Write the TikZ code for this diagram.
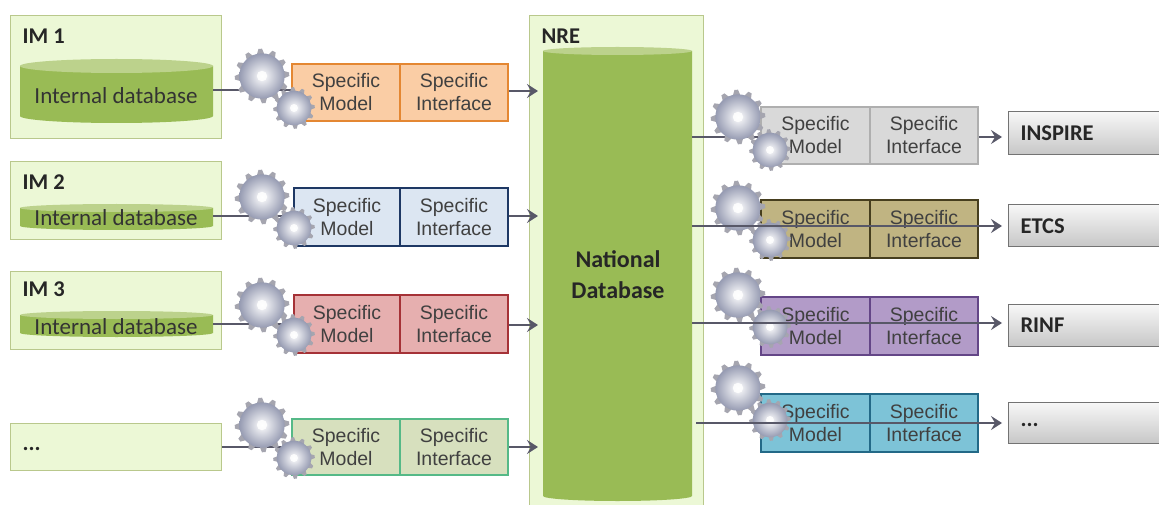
\documentclass[tikz,border=0pt]{standalone}
\usepackage{fontspec}
\setmainfont{Liberation Sans}
\newfontfamily\boldfont{Carlito}
\usetikzlibrary{arrows.meta,calc}
\definecolor{lightgreen}{RGB}{236,248,214}
\definecolor{edgegreen}{RGB}{185,200,140}
\definecolor{dbgreen}{RGB}{153,187,85}
\definecolor{dbtop}{RGB}{188,210,140}
\definecolor{linegray}{RGB}{88,88,104}
\definecolor{orangefill}{RGB}{250,205,165}
\definecolor{orangeedge}{RGB}{228,135,50}
\definecolor{bluefill}{RGB}{220,230,242}
\definecolor{blueedge}{RGB}{30,56,100}
\definecolor{redfill}{RGB}{230,175,175}
\definecolor{rededge}{RGB}{165,50,55}
\definecolor{greenfill}{RGB}{215,224,190}
\definecolor{greenedge}{RGB}{85,185,135}
\definecolor{grayfill}{RGB}{217,217,217}
\definecolor{grayedge}{RGB}{175,175,175}
\definecolor{olivefill}{RGB}{192,180,130}
\definecolor{oliveedge}{RGB}{70,62,30}
\definecolor{purplefill}{RGB}{178,155,200}
\definecolor{purpleedge}{RGB}{100,70,135}
\definecolor{cyanfill}{RGB}{125,195,215}
\definecolor{cyanedge}{RGB}{35,105,135}
\definecolor{gearrim}{RGB}{150,155,178}
\definecolor{gearteeth}{RGB}{165,165,175}
\tikzset{
>={Stealth[length=11pt,width=14pt,inset=4pt]},
x=1pt,y=-1pt,
holder/.style={draw=edgegreen,line width=1.4pt,fill=lightgreen,anchor=north west},
title/.style={font=\fontsize{22.5}{24}\selectfont\boldfont\bfseries,anchor=west,text=black!85},
dbtext/.style={font=\fontsize{23}{24}\selectfont\boldfont,text=black!80},
part/.style={draw=#1edge,line width=2pt,fill=#1fill,anchor=north west,align=center,
  font=\fontsize{19.5}{23}\selectfont,text=black!75,inner sep=0pt},
target/.style={draw=black!55,line width=.8pt,top color=black!3,bottom color=black!22,inner sep=0pt,anchor=north west,minimum width=151pt},
freccia/.style={->,line width=2.6pt,draw=linegray},
tratto/.style={line width=2.6pt,draw=linegray},
}
% gear drawn at a coordinate: #1 centre, #2 radius of the body
\newcommand{\gear}[2]{
  \fill[gearteeth,shift={(#1)}] (0:#2*1.3)
    \foreach \a in {1,...,47}{ -- (\a*7.5:{#2*(mod(\a+1,4)<2?1.3:1.0)}) } -- cycle;
  \shade[shift={(#1)},inner color=white,outer color=gearrim] (0,0) circle (#2*1.08);
  \fill[white,opacity=.85,shift={(#1)}] (0,0) circle (#2*.25);
}
% one model and interface pair: #1 name, #2 colour, #3 x left, #4 x mid, #5 x right, #6 y top, #7 y bottom
\newcommand{\pair}[7]{
  \node[part=#2,minimum width=#4pt-#3pt,minimum height=#7pt-#6pt] (#1m) at (#3,#6) {Specific\\Model};
  \node[part=#2,minimum width=#5pt-#4pt,minimum height=#7pt-#6pt] (#1i) at (#4,#6) {Specific\\Interface};
}
\begin{document}
\begin{tikzpicture}

\useasboundingbox (0,0) rectangle (1159,505);

% left side
\node[holder,minimum width=211pt,minimum height=123pt] (im1) at (10,15) {};
\node[holder,minimum width=211pt,minimum height=78pt] (im2) at (10,161) {};
\node[holder,minimum width=211pt,minimum height=78pt] (im3) at (10,271) {};
\node[holder,minimum width=211pt,minimum height=47pt] (im4) at (10,423) {};
\node[title] at (19,36) {IM 1};
\node[title] at (19,182) {IM 2};
\node[title] at (19,289) {IM 3};
\node[title] at (19,449) {...};

% databases
\foreach \name/\ya/\yb/\ry in {db1/66/116/7,db2/208/226/4,db3/315/333/4}{
  \fill[dbgreen] (20,\ya) -- (213,\ya) -- (213,\yb) arc[start angle=0,end angle=180,x radius=96.5,y radius=\ry] -- cycle;
  \fill[dbtop] (116.5,\ya) ellipse[x radius=96.5,y radius=\ry];
}
\coordinate (db1) at (213,90);
\coordinate (db2) at (213,216);
\coordinate (db3) at (213,324);
\node[dbtext] at (116,96) {Internal database};
\node[dbtext] at (116,218) {Internal database};
\node[dbtext] at (116,327) {Internal database};

% national database
\node[holder,minimum width=174pt,minimum height=490pt] (nre) at (529,15) {};
\node[title] at (538,36) {NRE};
\fill[dbgreen] (543,51) -- (692,51) -- (692,496) arc[start angle=0,end angle=180,x radius=74.5,y radius=5] -- cycle;
\fill[dbtop] (617.5,51) ellipse[x radius=74.5,y radius=4];
\node[font=\fontsize{24}{31}\selectfont\boldfont\bfseries,align=center,text=black!85] at (618,275) {National\\Database};

% specific boxes
\pair{a}{orange}{291}{399}{507}{63}{120}
\pair{b}{blue}{293}{399}{507}{187}{245}
\pair{c}{red}{293}{399}{507}{294}{352}
\pair{d}{green}{291}{399}{507}{418}{474}
\pair{e}{gray}{760}{869}{977}{106}{163}
\pair{f}{olive}{760}{869}{977}{199}{257}
\pair{g}{purple}{760}{869}{977}{296}{354}
\pair{h}{cyan}{760}{869}{977}{393}{451}

% targets
\node[target,minimum height=43pt] (t1) at (1008,111) {};
\node[target,minimum height=42pt] (t2) at (1008,204) {};
\node[target,minimum height=42pt] (t3) at (1008,304) {};
\node[target,minimum height=41pt] (t4) at (1008,402) {};
\node[title] at (1017,133) {INSPIRE};
\node[title] at (1017,226) {ETCS};
\node[title] at (1017,325) {RINF};
\node[title] at (1017,425) {...};

% connectors
\coordinate (nin) at (538,0);
\coordinate (tin) at (1002,0);
\coordinate (n1) at (692,137);
\coordinate (n2) at (692,226);
\coordinate (n3) at (692,323);
\coordinate (n4) at (696,423);
\draw[tratto] (db1) -- (am.west |- db1);
\draw[tratto] (db2) -- (bm.west |- db2);
\draw[tratto] (db3) -- (cm.west |- db3);
\draw[tratto] (im4.east |- 0,447) -- (dm.west |- 0,447);
\draw[tratto] (n1) -- (em.west |- n1);
\draw[freccia] (ai.east |- 0,91) -- (nin |- 0,91);
\draw[freccia] (bi.east |- 0,216) -- (nin |- 0,216);
\draw[freccia] (ci.east |- 0,325) -- (nin |- 0,325);
\draw[freccia] (di.east |- 0,447) -- (nin |- 0,447);
\draw[freccia] (ei.east |- n1) -- (tin |- n1);

% gears
\foreach \xa/\ya/\xb/\yb in {262/76/294/108,262/197/294/228,262/305/294/335,262/425/294/458,
  738/117/770/150,738/208/770/240,738/295/770/327,738/388/770/420}{
  \gear{\xa,\ya}{21}
  \gear{\xb,\yb}{16}
}

\draw[freccia] (n2) -- (tin |- n2);
\draw[freccia] (n3) -- (tin |- n3);
\draw[freccia] (n4) -- (tin |- n4);
\end{tikzpicture}
\end{document}
